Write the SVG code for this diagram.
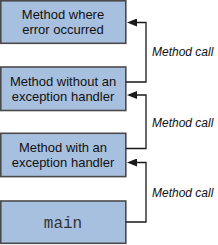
<svg xmlns="http://www.w3.org/2000/svg" width="218" height="245" viewBox="0 0 218 245">
<style>
.box{fill:#a8c0df;stroke:#4a4a4a;stroke-width:1.6}
.t{font-family:"Liberation Sans",Arial,sans-serif;font-size:13px;fill:#111;text-anchor:middle}
.m{font-family:"Liberation Mono","Courier New",monospace;font-size:16px;fill:#333;text-anchor:middle}
.lbl{font-family:"Liberation Sans",Arial,sans-serif;font-size:12px;font-style:italic;fill:#111}
.c{fill:none;stroke:#1a1a1a;stroke-width:1.3}
</style>
<defs>
<marker id="ah" viewBox="0 0 10 8" refX="1" refY="4" markerWidth="10" markerHeight="8" markerUnits="userSpaceOnUse" orient="auto">
<path d="M10,0 L0,4 L10,8 Z" fill="#1a1a1a" transform="rotate(180 5 4)"/>
</marker>
</defs>
<g id="n1">
<rect class="box" x="0.8" y="0.8" width="125" height="42.5"/>
<text class="t" x="63" y="18.5">Method where</text>
<text class="t" x="63" y="33.5">error occurred</text>
</g>
<g id="n2">
<rect class="box" x="0.8" y="67" width="125" height="43.5"/>
<text class="t" x="63" y="85.5">Method without an</text>
<text class="t" x="63" y="100.5">exception handler</text>
</g>
<g id="n3">
<rect class="box" x="0.8" y="133.3" width="125" height="43.3"/>
<text class="t" x="63" y="152">Method with an</text>
<text class="t" x="63" y="167">exception handler</text>
</g>
<g id="n4">
<rect class="box" x="0.8" y="201" width="125" height="42.3"/>
<text class="m" x="63" y="228">main</text>
</g>
<g id="connectors">
<path class="c" d="M126,82 H146 V22.5 H136" marker-end="url(#ah)"/>
<path class="c" d="M126,148.5 H146 V95 H136" marker-end="url(#ah)"/>
<path class="c" d="M126,222 H146 V162.5 H136" marker-end="url(#ah)"/>
</g>
<g id="labels">
<text class="lbl" x="152" y="56">Method call</text>
<text class="lbl" x="152" y="126.5">Method call</text>
<text class="lbl" x="152" y="196.5">Method call</text>
</g>
</svg>
